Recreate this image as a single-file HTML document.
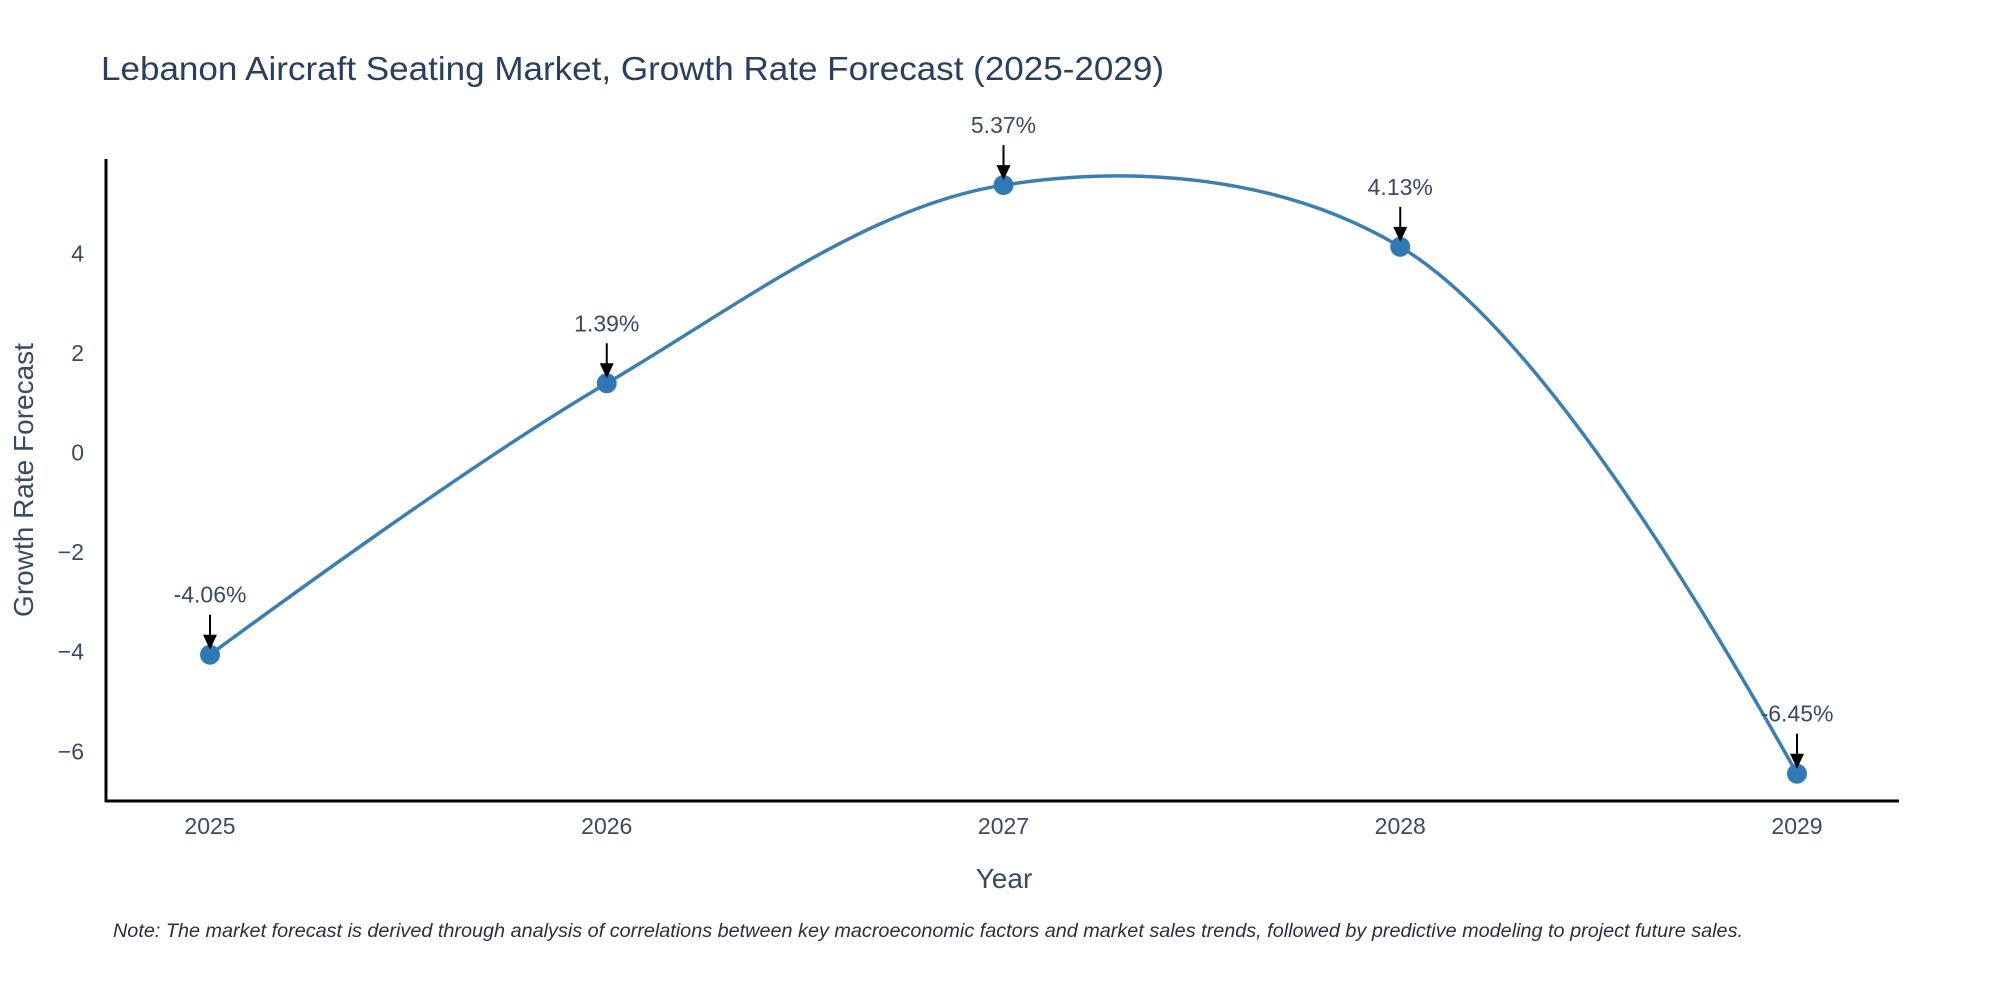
<!DOCTYPE html>
<html><head><meta charset="utf-8"><style>
html,body{margin:0;padding:0;background:#fff;}
svg{display:block;font-family:"Liberation Sans",sans-serif;}
</style></head><body>
<svg id="chart" width="2000" height="1000" viewBox="0 0 2000 1000">
<text x="101" y="80" font-size="33" fill="#2a3f5f" textLength="1063" lengthAdjust="spacingAndGlyphs">Lebanon Aircraft Seating Market, Growth Rate Forecast (2025-2029)</text>
<g id="yticks"></g>
<g id="xticks"></g>
<path id="line" fill="none" stroke="#3b7fb1" stroke-width="3.5"/>
<g id="points"></g>
<g id="annots"></g>
<line x1="106" y1="159" x2="106" y2="802" stroke="#000" stroke-width="3"/>
<line x1="105" y1="801" x2="1899" y2="801" stroke="#000" stroke-width="3"/>
<text x="1004" y="888" font-size="28" fill="#3a4a5f" text-anchor="middle">Year</text>
<text transform="translate(33,480) rotate(-90)" font-size="28" fill="#3a4a5f" text-anchor="middle">Growth Rate Forecast</text>
<text x="113" y="937" font-size="19" font-style="italic" fill="#2a2f3f" textLength="1630" lengthAdjust="spacingAndGlyphs">Note: The market forecast is derived through analysis of correlations between key macroeconomic factors and market sales trends, followed by predictive modeling to project future sales.</text>
</svg>
<script>
const years = [2025, 2026, 2027, 2028, 2029];
const growth = [-4.06, 1.39, 5.37, 4.13, -6.45];
const labels = ["-4.06%", "1.39%", "5.37%", "4.13%", "-6.45%"];
const yTickValues = [-6, -4, -2, 0, 2, 4];
const yTickLabels = ["\u22126", "\u22124", "\u22122", "0", "2", "4"];

const NS = "http://www.w3.org/2000/svg";
function xs(v){ return 210 + (v - 2025) * 396.75; }
function ys(v){ return 452.5 - v * 49.8; }
function mk(tag, attrs, parent){ const e = document.createElementNS(NS, tag); for (const k in attrs) e.setAttribute(k, attrs[k]); parent.appendChild(e); return e; }

const yt = document.getElementById('yticks');
yTickValues.forEach((v,i)=>{
  const t = mk('text', {x:84, y:ys(v)+8, 'font-size':23, fill:'#3a4a5f', 'text-anchor':'end'}, yt);
  
  
  t.textContent = yTickLabels[i];
});
const xt = document.getElementById('xticks');
years.forEach(y=>{
  const t = mk('text', {x:xs(y), y:834, 'font-size':23, fill:'#3a4a5f', 'text-anchor':'middle'}, xt);
  
  
  t.textContent = String(y);
});

const pts = years.map((y,i)=>[xs(y), ys(growth[i])]);
function tangent(p0,p1,p2,s){
  const d1x=p0[0]-p1[0], d1y=p0[1]-p1[1], d2x=p2[0]-p1[0], d2y=p2[1]-p1[1];
  const d1a=Math.pow(d1x*d1x+d1y*d1y,0.25), d2a=Math.pow(d2x*d2x+d2y*d2y,0.25);
  const nx=(d2a*d2a*d1x-d1a*d1a*d2x)*s, ny=(d2a*d2a*d1y-d1a*d1a*d2y)*s;
  const den1=3*d2a*(d1a+d2a), den2=3*d1a*(d1a+d2a);
  return [[p1[0]+nx/den1, p1[1]+ny/den1],[p1[0]-nx/den2, p1[1]-ny/den2]];
}
const tg=[];
for(let i=1;i<pts.length-1;i++) tg.push(tangent(pts[i-1],pts[i],pts[i+1],1));
let d = `M${pts[0]} Q${tg[0][0]} ${pts[1]}`;
for(let i=1;i<pts.length-2;i++) d += ` C${tg[i-1][1]} ${tg[i][0]} ${pts[i+1]}`;
d += ` Q${tg[tg.length-1][1]} ${pts[pts.length-1]}`;
document.getElementById('line').setAttribute('d', d);

const pg = document.getElementById('points');
const ag = document.getElementById('annots');
pts.forEach((p,i)=>{
  const c = mk('circle', {cx:p[0], cy:p[1], r:9.5, fill:'#2f78b5', stroke:'#3b7fb1', 'stroke-width':1}, pg);
  
  
  const l = mk('line', {x1:p[0], y1:p[1]-40, x2:p[0], y2:p[1]-18, stroke:'#000', 'stroke-width':2}, ag);
  
  
  const h = mk('polygon', {points:`${p[0]-7},${p[1]-20} ${p[0]+7},${p[1]-20} ${p[0]},${p[1]-5}`, fill:'#000'}, ag);
  
  
  const t = mk('text', {x:p[0], y:p[1]-52, 'font-size':23, fill:'#3a4a5f', 'text-anchor':'middle'}, ag);
  
  
  t.textContent = labels[i];
});
</script>
</body></html>
